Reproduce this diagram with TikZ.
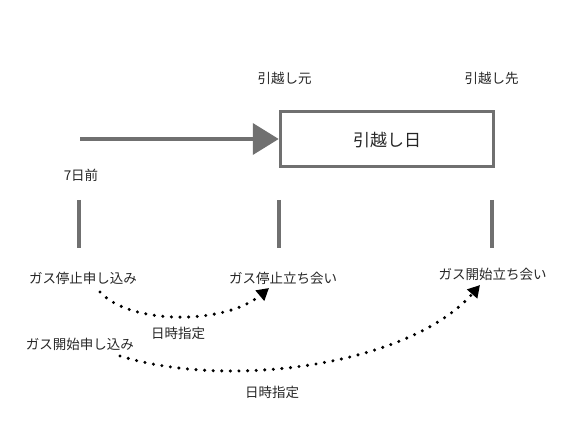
\documentclass[tikz,border=0pt]{standalone}
\usepackage{fontspec}
\setmainfont{Noto Sans CJK JP}
\usetikzlibrary{arrows.meta}
\definecolor{sketch}{RGB}{112,112,112}
\tikzset{
  lbl/.style={inner sep=0pt, font=\fontsize{13.5}{15}\selectfont, text=black!85},
  biglbl/.style={inner sep=0pt, font=\fontsize{17}{19}\selectfont, text=black!85},
  tick/.style={draw=sketch, line width=4pt},
  dotline/.style={line width=3.4pt, line cap=round, dash pattern=on 0pt off 8.6pt,
     -{Triangle[length=12pt,width=13pt]}},
}
\begin{document}
\begin{tikzpicture}[x=1pt,y=-1pt]
\useasboundingbox (0,0) rectangle (574,427);
% labels top
\node[lbl] (moto) at (284.5,78.5) {引越し元};
\node[lbl] (saki) at (491.5,78.5) {引越し先};
% main box
\node[draw=sketch, line width=3.5pt, minimum width=213pt, minimum height=55pt, inner sep=0pt] (box) at (387,139) {};
\node[biglbl] (hikkoshi) at (387,140.5) {引越し日};
% arrow
\coordinate (start) at (80,139);
\draw[draw=sketch, line width=4pt, -{Triangle[length=26pt,width=31pt]}, color=sketch] (start) -- (box.west);
\node[lbl] (mae) at (81,175) {7日前};
% ticks
\coordinate (t1a) at (79,200); \coordinate (t1b) at (79,248);
\coordinate (t2a) at (279,200); \coordinate (t2b) at (279,248);
\coordinate (t3a) at (492,200); \coordinate (t3b) at (492,248);
\draw[tick] (t1a) -- (t1b);
\draw[tick] (t2a) -- (t2b);
\draw[tick] (t3a) -- (t3b);
% event labels
\node[lbl] (stopreq) at (83,278) {ガス停止申し込み};
\node[lbl] (stopmeet) at (283,278) {ガス停止立ち会い};
\node[lbl] (startmeet) at (492.5,274) {ガス開始立ち会い};
\node[lbl] (startreq) at (80,344.5) {ガス開始申し込み};
\node[lbl] (date1) at (178,333.5) {日時指定};
\node[lbl] (date2) at (272,392.5) {日時指定};
% dotted curves
\coordinate (c1s) at (100,292);
\coordinate (c1e) at (269,288);
\coordinate (c2s) at (120,356);
\coordinate (c2e) at (480,285);
\draw[dotline] (c1s) .. controls (130,325) and (225,325) .. (c1e);
\draw[dotline] (c2s) .. controls (230,390) and (410,365) .. (c2e);
\end{tikzpicture}
\end{document}
